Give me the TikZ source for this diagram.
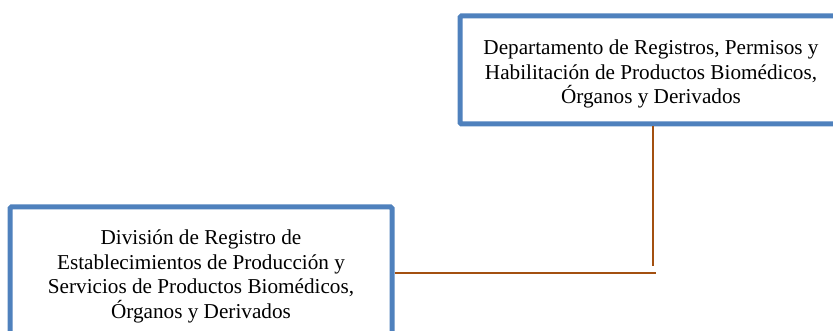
\documentclass[tikz,border=0pt]{standalone}
\usepackage{fontspec}
\setmainfont{Liberation Serif}
\definecolor{boxblue}{RGB}{79,129,189}
\definecolor{linkbrown}{RGB}{163,80,16}
\begin{document}
\begin{tikzpicture}[x=1pt,y=-1pt,
  orgbox/.style={draw=boxblue, line width=5pt, fill=white, rounded corners=1.5pt, inner sep=0pt},
  orgtext/.style={align=center, font=\fontsize{21.2}{24.5}\selectfont, text=black},
  link/.style={draw=linkbrown, line width=2.2pt}]
\useasboundingbox (0,0) rectangle (833,331);
\clip (0,0) rectangle (833,331);
\node[orgbox, minimum width=382pt, minimum height=108pt] (dep) at (651,70) {};
\node[orgtext] (deptxt) at (651,74) {Departamento de Registros, Permisos y\\Habilitación de Productos Biomédicos,\\Órganos y Derivados};
\node[orgbox, minimum width=382pt, minimum height=134pt] (div) at (201,274) {};
\node[orgtext] (divtxt) at (201,276.5) {División de Registro de\\Establecimientos de Producción y\\Servicios de Productos Biomédicos,\\Órganos y Derivados};
\coordinate (vend) at (653,266);
\draw[link] (dep.south -| vend) -- (vend);
\coordinate (hend) at (656,273);
\draw[link] (div.east |- hend) -- (hend);
\end{tikzpicture}
\end{document}
